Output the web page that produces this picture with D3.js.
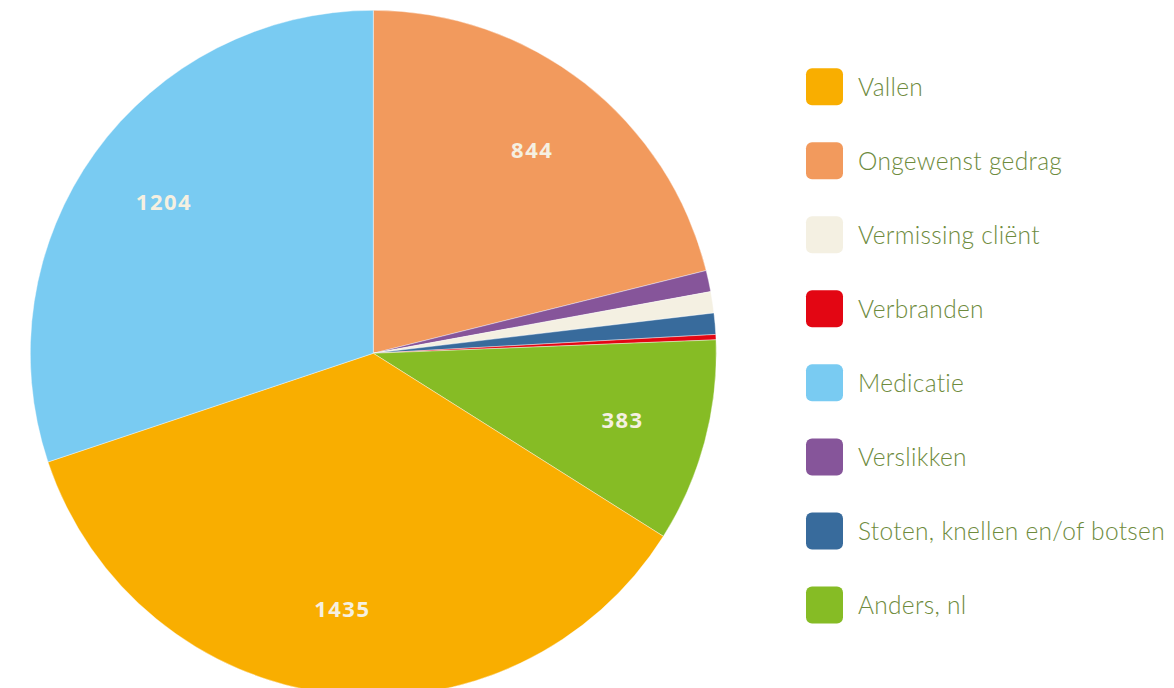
<!DOCTYPE html>
<html><head><meta charset="utf-8">
<script src="https://cdn.jsdelivr.net/npm/d3@7"></script>
<style>body{margin:0;background:#fff;}svg{display:block;}</style>
</head><body>
<svg id="c" width="1174" height="688"></svg>
<script>
// Legend order
const categories = ["Vallen","Ongewenst gedrag","Vermissing cliënt","Verbranden","Medicatie","Verslikken","Stoten, knellen en/of botsen","Anders, nl"];
const values = [1435, 844, 40, 10, 1204, 40, 40, 383];
const colors = ["#f9ae00","#f29a5d","#f4f0e2","#e30613","#79cbf2","#86559a","#386b9c","#86bc25"];
// Clockwise order of slices starting at 12 o'clock
const pieOrder = ["Ongewenst gedrag","Verslikken","Vermissing cliënt","Stoten, knellen en/of botsen","Verbranden","Anders, nl","Vallen","Medicatie"];
const labelled = ["Ongewenst gedrag","Anders, nl","Vallen","Medicatie"];

const svg = d3.select("#c");
const cx = 373.3, cy = 353.3, R = 343;
const data = pieOrder.map(n => { const i = categories.indexOf(n); return {name:n, value:values[i], color:colors[i]}; });
const pie = d3.pie().sort(null).value(d => d.value);
const arc = d3.arc().innerRadius(0).outerRadius(R);
const labelArc = d3.arc().innerRadius(258).outerRadius(258);
const g = svg.append("g").attr("transform", `translate(${cx},${cy})`);
const arcs = pie(data);
g.selectAll("path").data(arcs).join("path")
  .attr("d", arc).attr("fill", d => d.data.color)
  .attr("stroke", "#fff").attr("stroke-width", 0.4);
g.selectAll("text").data(arcs.filter(d => labelled.includes(d.data.name))).join("text")
  .attr("transform", d => `translate(${labelArc.centroid(d)})`)
  .attr("text-anchor","middle").attr("dy","0.36em")
  .attr("fill","#f5f0e1").attr("font-family","'Open Sans', sans-serif")
  .attr("font-weight",700).attr("font-size",22).attr("letter-spacing","1.5px")
  .text(d => d.data.value);

// Legend
const ly = d3.scaleLinear().domain([0, categories.length-1]).range([86.7, 605]);
const lg = svg.append("g");
const items = lg.selectAll("g").data(categories).join("g")
  .attr("transform", (d,i) => `translate(806,${ly(i)})`);
items.append("rect").attr("x",0).attr("y",-18.5).attr("width",37).attr("height",37)
  .attr("rx",6).attr("fill",(d,i)=>colors[i]);
items.append("text").attr("x",52).attr("dy","0.36em")
  .attr("fill","#6e8b3d").attr("font-family","Lato, sans-serif").attr("font-weight",300)
  .attr("font-size",24.5).attr("letter-spacing","0.3px").text(d => d);
</script>
</body></html>
